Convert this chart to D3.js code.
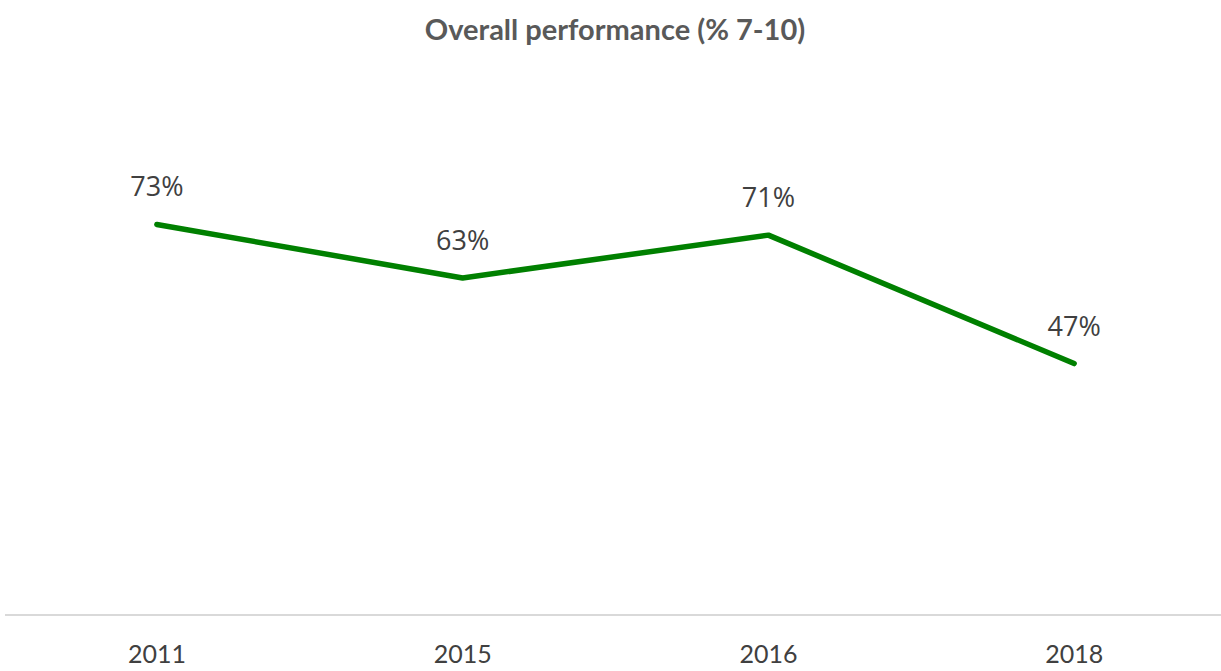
<!DOCTYPE html>
<meta charset="utf-8">
<style>
    body { margin: 0; background: #fff; }
    text { font-family: Lato, "Open Sans", sans-serif; }
</style>
<body>
<div id="chart"></div>
<script src="https://cdn.jsdelivr.net/npm/d3@7"></script>
<script>
    var years = ["2011", "2015", "2016", "2018"];
    var values = [73, 63, 71, 47];

    var width = 1221,
        height = 671;

    var svg = d3.select("#chart").append("svg")
        .attr("width", width)
        .attr("height", height);

    var x = d3.scaleBand()
        .domain(years)
        .range([4, 1227]);

    var y = d3.scaleLinear()
        .domain([0, 100])
        .range([615, 80]);

    // title
    svg.append("text")
        .attr("x", 615)
        .attr("y", 40)
        .attr("text-anchor", "middle")
        .style("font-weight", "bold")
        .style("font-size", "29px")
        .style("fill", "#595959")
        .text("Overall performance (% 7-10)");

    // baseline
    svg.append("line")
        .attr("x1", 5)
        .attr("x2", 1221)
        .attr("y1", y(0))
        .attr("y2", y(0))
        .style("stroke", "#d9d9d9")
        .style("stroke-width", 2);

    var xAxis = svg.append("g")
        .attr("transform", "translate(0," + y(0) + ")")
        .call(d3.axisBottom(x).tickSize(0).tickPadding(30));
    xAxis.select(".domain").remove();
    xAxis.selectAll("text")
        .style("font-family", "Lato, sans-serif")
        .style("font-size", "25px")
        .style("fill", "#404040");

    var line = d3.line()
        .x(function (d, i) { return x(years[i]) + x.bandwidth() / 2; })
        .y(function (d) { return y(d); });

    svg.append("path")
        .datum(values)
        .attr("d", line)
        .style("fill", "none")
        .style("stroke", "#008000")
        .style("stroke-width", 5.5)
        .style("stroke-linecap", "round")
        .style("stroke-linejoin", "round");

    svg.selectAll(".label")
        .data(values)
        .enter().append("text")
        .attr("class", "label")
        .attr("x", function (d, i) { return x(years[i]) + x.bandwidth() / 2; })
        .attr("y", function (d) { return y(d) - 28; })
        .attr("text-anchor", "middle")
        .style("font-family", "'Open Sans', sans-serif")
        .style("font-size", "27px")
        .style("fill", "#404040")
        .text(function (d) { return d + "%"; });
</script>
</body>
